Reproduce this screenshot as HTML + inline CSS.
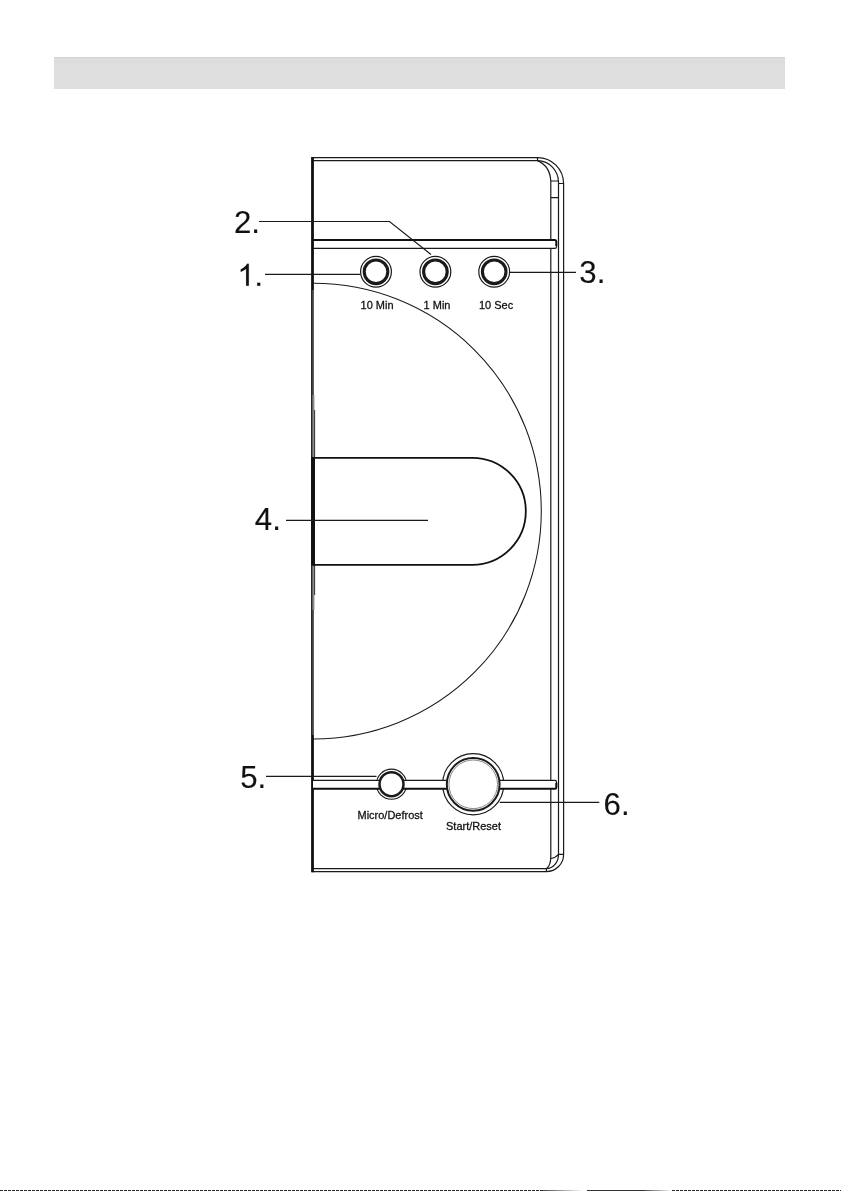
<!DOCTYPE html>
<html><head><meta charset="utf-8">
<style>
html,body{margin:0;padding:0;background:#fff;}
body{width:841px;height:1191px;overflow:hidden;position:relative;font-family:"Liberation Sans",sans-serif;}
svg{position:absolute;left:0;top:0;will-change:transform;-webkit-font-smoothing:antialiased;}
.n{font-family:"Liberation Sans",sans-serif;font-size:30px;fill:#111;stroke:#111;stroke-width:0.12px;}
.l{font-family:"Liberation Sans",sans-serif;font-size:11px;fill:#111;stroke:#111;stroke-width:0.28px;}
</style></head><body>
<svg width="841" height="1191" viewBox="0 0 841 1191">
<rect x="54" y="57" width="731" height="32" fill="#dedede"/>
<rect x="54" y="57" width="731" height="1.5" fill="#d6d6d6"/>
<rect x="54" y="61" width="731" height="1" fill="#d9d9d9"/>

<g fill="none" stroke="#1a1a1a" stroke-width="1.2">
<!-- panel outline -->
<path d="M312.5 157.6 H537.5 A26 26 0 0 1 563.6 183.5 V854.3 A17.2 17.2 0 0 1 546.4 871.6 H312.5"/>
<path d="M312.5 160.6 H537.5 A21 22 0 0 1 558.5 183.5 V854.3 A12.5 14.3 0 0 1 546.4 868.7 H312.5"/>
<path d="M537.5 160.6 Q550 166 550.8 181 V856 Q550.8 866 546.4 868.7"/>
<path d="M550.8 181 H558 M550.8 197.7 H558.5 M537.5 157.6 V160.6 M558.5 183.5 H563.6 M558.5 854.3 H563.6 M546.4 868.7 V871.6"/>
<path d="M550.8 858.5 Q556 857.5 558.5 854.3"/>
<!-- big arc -->
<path d="M313.5 283.3 A227.8 227.8 0 0 1 313.5 738.9" stroke-width="1.05"/>
<!-- top bar -->
<rect x="313" y="240" width="243" height="8.4" fill="#fff" stroke="none"/>
<path d="M313 248.4 H555 Q556.5 248.4 556.5 247 V241.5"/>
</g>
<g fill="none" stroke="#111" stroke-width="2">
<path d="M313 240 H555 Q556.3 240 556.3 241.5 V246"/>
</g>
<!-- left line -->
<rect x="311.1" y="157" width="2.8" height="715.3" fill="#111"/>
<rect x="312.5" y="290" width="1.2" height="167" fill="#777"/>
<rect x="312.5" y="565" width="1.2" height="170" fill="#777"/>
<rect x="312.5" y="395" width="1.9" height="62" fill="#888"/>
<rect x="312.5" y="565" width="1.9" height="45" fill="#888"/>
<rect x="314.2" y="410" width="0.9" height="47" fill="#222"/>
<rect x="314.2" y="565" width="0.9" height="30" fill="#222"/>
<rect x="311" y="457" width="4" height="108.7" fill="#111"/>
<!-- handle -->
<path d="M313 457.8 H472.3 A53.5 53.5 0 0 1 472.3 564.8 H313" fill="none" stroke="#111" stroke-width="1.8"/>

<!-- buttons top -->
<g fill="#fff" stroke="#1a1a1a">
<circle cx="376" cy="271.8" r="15.4" stroke-width="1.2"/>
<circle cx="376" cy="271.8" r="11.8" stroke-width="3.1"/>
<circle cx="435.4" cy="271.8" r="15.4" stroke-width="1.2"/>
<circle cx="435.4" cy="271.8" r="11.8" stroke-width="3.1"/>
<circle cx="494.2" cy="271.8" r="15.4" stroke-width="1.2"/>
<circle cx="494.2" cy="271.8" r="11.8" stroke-width="3.1"/>
</g>
<!-- bottom buttons + bar -->
<g fill="#fff" stroke="#1a1a1a">
<circle cx="391.5" cy="784.2" r="15.1" stroke-width="1.1"/>
<circle cx="473.2" cy="784.3" r="30.6" stroke-width="1.2"/>
</g>
<rect x="313" y="780.3" width="243" height="8.5" fill="#fff"/>
<path d="M313 780.3 H555 Q556.5 780.3 556.5 782 V787" fill="none" stroke="#1a1a1a" stroke-width="1.3"/>
<path d="M313 788.8 H555 Q556.3 788.8 556.3 787.5 V783" fill="none" stroke="#111" stroke-width="2"/>
<circle cx="391.5" cy="784.2" r="12" fill="#fff" stroke="#1a1a1a" stroke-width="2.5"/>
<circle cx="473.2" cy="784.3" r="26.4" fill="#fff" stroke="#1a1a1a" stroke-width="2"/>
<circle cx="473.2" cy="784.3" r="24.3" fill="none" stroke="#888" stroke-width="1"/>

<!-- leaders -->
<g fill="none" stroke="#1a1a1a" stroke-width="1.2">
<path d="M265 274.4 H360.5"/>
<path d="M259 221.5 H389.5 L431 254.5"/>
<path d="M510 272.4 H576"/>
<path d="M286 520.4 H428"/>
<path d="M266 776.4 H376.5"/>
<path d="M499.8 802.4 H599.3"/>
</g>

<text class="n" transform="translate(233.9 232.7) scale(1.04 1.06)">2.</text>
<g transform="translate(237.4 285.8) scale(0.014941 -0.014941)" fill="#111" stroke="#111" stroke-width="8"><path d="M763 0H583V1147Q518 1085 412.5 1023Q307 961 223 930V1104Q374 1175 487 1276Q600 1377 647 1472H763Z"/><path d="M1325 0V205H1530V0Z"/></g>
<text class="n" transform="translate(579.3 282.9) scale(1.04 1.06)">3.</text>
<text class="n" transform="translate(254.8 529.9) scale(1.04 1.06)">4.</text>
<text class="n" transform="translate(240.2 788.1) scale(1.04 1.06)">5.</text>
<text class="n" transform="translate(603.6 815.1) scale(1.04 1.06)">6.</text>

<text class="l" transform="translate(360.6 308.7) scale(1 1.05)">10 Min</text>
<text class="l" transform="translate(423.6 308.7) scale(1 1.05)">1 Min</text>
<text class="l" transform="translate(479 308.7) scale(1 1.05)">10 Sec</text>
<text class="l" transform="translate(357.5 818.6) scale(1 1.05)">Micro/Defrost</text>
<text class="l" transform="translate(446 830.3) scale(1 1.05)">Start/Reset</text>

<!-- bottom edge artifact -->
<defs>
<linearGradient id="g1" x1="0" x2="1" y1="0" y2="0"><stop offset="0" stop-color="#444"/><stop offset="1" stop-color="#fff"/></linearGradient>
</defs>
<path d="M0 1190.5 H543" stroke="#2a2a2a" stroke-width="1" stroke-dasharray="3 1" fill="none"/>
<rect x="543" y="1190" width="40" height="1" fill="url(#g1)"/>
<rect x="587" y="1190" width="57" height="1" fill="#333"/>
<rect x="644" y="1190" width="28" height="1" fill="url(#g1)"/>
<path d="M672 1190.5 H841" stroke="#2a2a2a" stroke-width="1" stroke-dasharray="3 1" fill="none"/>
</svg>
</body></html>
